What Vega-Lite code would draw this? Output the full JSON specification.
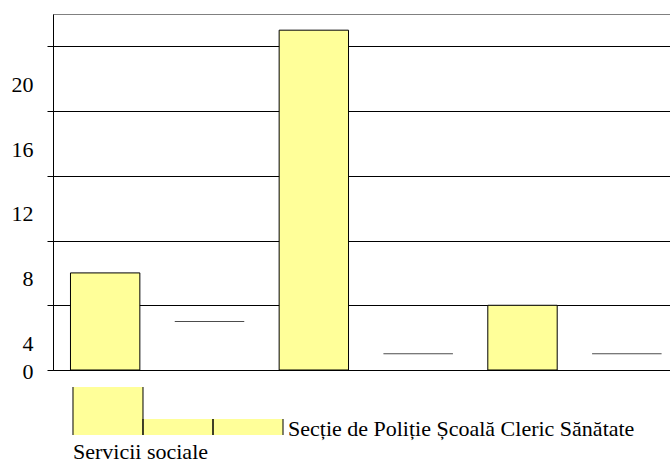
{
  "$schema": "https://vega.github.io/schema/vega-lite/v6.json",
  "padding": {"left": 0, "top": 13, "right": 0, "bottom": 0},
  "background": "white",
  "spacing": 3,
  "config": {"view": {"stroke": null}, "font": "Liberation Serif, DejaVu Serif, serif"},
  "datasets": {
    "bars": [{"pos": "1", "v": 6}, {"pos": "3", "v": 21}, {"pos": "5", "v": 4}],
    "lines": [{"pos": "2", "v": 3}, {"pos": "4", "v": 1}, {"pos": "6", "v": 1}],
    "legend": [{"entry": "Servicii sociale", "v": 3}, {"entry": "Secție de Poliție", "v": 1}, {"entry": "Școală", "v": 1}]
  },
  "vconcat": [
    {
      "width": 626,
      "height": 356,
      "view": {"stroke": "#808080"},
      "encoding": {
        "x": {
          "field": "pos",
          "type": "nominal",
          "scale": {"type": "band", "domain": ["1", "2", "3", "4", "5", "6"], "paddingInner": 0.335, "paddingOuter": 0.1675},
          "axis": {"labels": false, "ticks": false, "title": null, "domainColor": "#000", "grid": false}
        },
        "y": {
          "field": "v",
          "type": "quantitative",
          "scale": {"domain": [0, 22], "nice": false},
          "axis": {
            "values": [0, 4, 8, 12, 16, 20],
            "title": null,
            "grid": true,
            "gridColor": "#000",
            "gridOpacity": 1,
            "domainColor": "#000",
            "tickColor": "#000",
            "tickSize": 6,
            "labelPadding": 14,
            "labelFont": "Liberation Serif, DejaVu Serif, serif",
            "labelFontSize": 22,
            "labelColor": "#000",
            "labelOffset": {"condition": {"test": "datum.value === 0", "value": 1}, "value": 38},
            "labelOverlap": false,
            "minExtent": 52,
            "maxExtent": 52
          }
        }
      },
      "layer": [
        {"data": {"name": "bars"}, "mark": {"type": "bar", "fill": "#FFFF99", "stroke": "#000", "strokeWidth": 1}},
        {"data": {"name": "lines"}, "mark": {"type": "tick", "color": "#000", "thickness": 1, "size": 69.5}}
      ]
    },
    {
      "width": 250,
      "height": 48,
      "data": {"name": "legend"},
      "layer": [
        {
          "mark": {"type": "bar", "fill": "#FFFF99"},
          "encoding": {
            "x": {"field": "entry", "type": "nominal", "scale": {"type": "band", "domain": ["Servicii sociale", "Secție de Poliție", "Școală"], "paddingInner": 0, "paddingOuter": 0.2857}, "axis": null},
            "y": {"field": "v", "type": "quantitative", "scale": {"domain": [0, 3], "nice": false}, "axis": null}
          }
        },
        {
          "mark": {"type": "rule", "color": "#000", "strokeWidth": 1},
          "encoding": {
            "x": {"field": "entry", "type": "nominal", "bandPosition": 0, "axis": null},
            "y": {"field": "v", "type": "quantitative", "axis": null},
            "y2": {"datum": 0}
          }
        },
        {
          "mark": {"type": "rule", "color": "#000", "strokeWidth": 1},
          "encoding": {
            "x": {"field": "entry", "type": "nominal", "bandPosition": 1, "axis": null},
            "y": {"field": "v", "type": "quantitative", "axis": null},
            "y2": {"datum": 0}
          }
        },
        {
          "transform": [{"filter": "datum.entry === 'Servicii sociale'"}],
          "mark": {"type": "text", "align": "left", "baseline": "top", "dy": 7, "fontSize": 22, "font": "Liberation Serif, DejaVu Serif, serif", "color": "#000"},
          "encoding": {
            "x": {"field": "entry", "type": "nominal", "bandPosition": 0, "axis": null},
            "y": {"datum": 0, "type": "quantitative", "axis": null},
            "text": {"field": "entry"}
          }
        },
        {
          "transform": [{"filter": "datum.entry === 'Școală'"}],
          "mark": {"type": "text", "align": "left", "baseline": "alphabetic", "dx": 5, "dy": 1, "fontSize": 22, "font": "Liberation Serif, DejaVu Serif, serif", "color": "#000", "text": "Secție de Poliție Școală Cleric Sănătate"},
          "encoding": {
            "x": {"field": "entry", "type": "nominal", "bandPosition": 1, "axis": null},
            "y": {"datum": 0, "type": "quantitative", "axis": null}
          }
        }
      ]
    }
  ]
}
